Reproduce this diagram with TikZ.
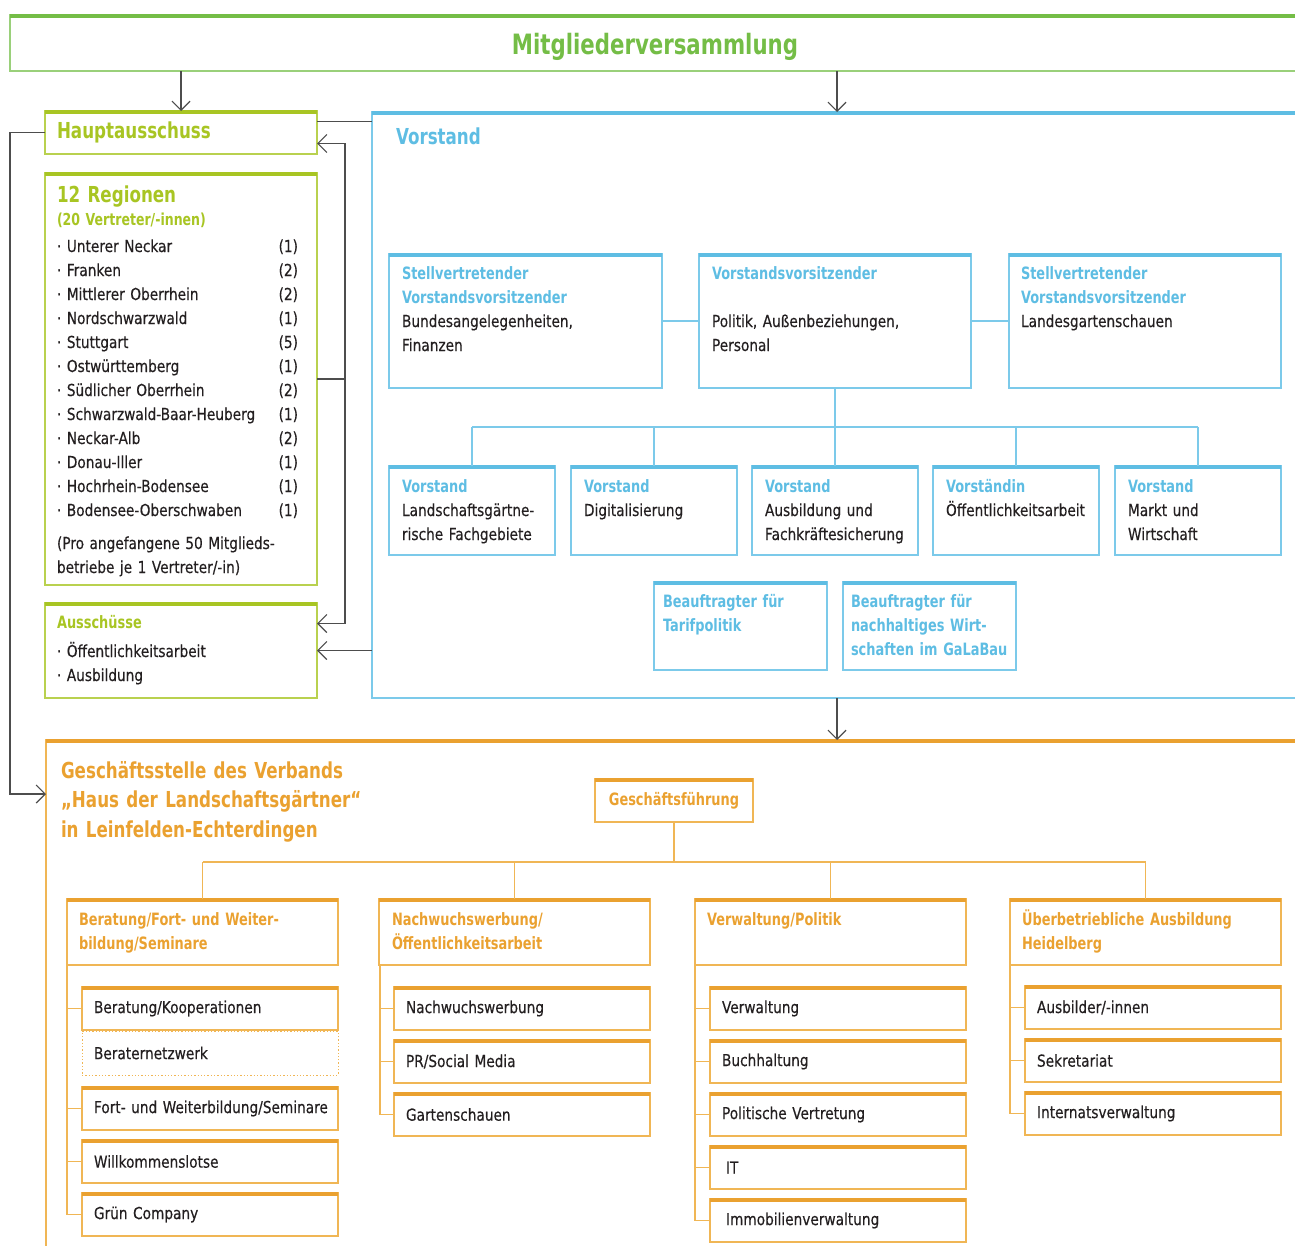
\documentclass[tikz,border=0pt]{standalone}
\usepackage{fontspec}
\setmainfont{DejaVu Sans}[UprightFeatures={FakeStretch=0.83,FakeBold=0.4},BoldFeatures={FakeStretch=0.76}]
\usetikzlibrary{arrows.meta,calc}
\definecolor{mgreen}{HTML}{74BD46}
\definecolor{mgreenL}{HTML}{9AD07A}
\definecolor{lime}{HTML}{A8C523}
\definecolor{limeL}{HTML}{B9D14F}
\definecolor{vblue}{HTML}{5EBDE3}
\definecolor{vblueL}{HTML}{7CCAEA}
\definecolor{gorange}{HTML}{EAA130}
\definecolor{gorangeL}{HTML}{F0B655}
\definecolor{ink}{HTML}{231F20}
\definecolor{conn}{HTML}{4D4D4D}
\newcommand\body{\fontsize{16.5}{24}\selectfont}
\newcommand\hd{\fontsize{17}{24}\selectfont\bfseries}
\newcommand\topbar[2]{\draw[draw=#2, line width=4pt] ([yshift=-1pt]#1.north west) -- ([yshift=-1pt]#1.north east);}
\newcommand\rli[2]{·\ #1\hfill(#2)}
\begin{document}
\begin{tikzpicture}[x=1pt,y=-1pt,
  frame/.style={draw=#1, line width=1.3pt, anchor=north west, inner sep=0pt, outer sep=0pt},
  arr/.style={draw=conn, line width=1.2pt, -{Straight Barb[length=9pt,width=18pt]}},
  cline/.style={draw=conn, line width=1.2pt},
  bline/.style={draw=vblueL, line width=1.3pt},
  oline/.style={draw=gorangeL, line width=1.3pt},
  txt/.style={anchor=base west, inner sep=0pt, outer sep=0pt, align=left, text=ink, font=\body, text width=#1pt},
  txt/.default=250,
  item/.style={frame=gorangeL, minimum width=256pt, minimum height=43pt, text width=232pt, inner xsep=12pt, align=left, font=\body, text=ink},
  vbox/.style={frame=vblueL},
  obox/.style={frame=gorangeL},
  lbox/.style={frame=limeL}
]
\useasboundingbox (0,0) rectangle (1295,1245);

% ---------- Mitgliederversammlung
\node[frame=mgreenL, minimum width=1300pt, minimum height=56pt] (M) at (10,15) {};
\topbar{M}{mgreen}
\node[anchor=base, inner sep=0pt, text=mgreen, font=\fontsize{28}{30}\selectfont\bfseries] (Mt) at (655,54) {Mitgliederversammlung};

% ---------- left column
\node[lbox, minimum width=272pt, minimum height=43pt, text width=248pt, inner xsep=12pt, align=left, text=lime, font=\fontsize{22}{24}\selectfont\bfseries] (H) at (45,111) {Hauptausschuss};
\topbar{H}{lime}

\node[lbox, minimum width=272pt, minimum height=412pt] (R) at (45,173) {};
\topbar{R}{lime}
\node[txt, text=lime, font=\fontsize{22}{24}\selectfont\bfseries] (Rt) at ([shift={(12,29)}]R.north west) {12 Regionen};
\node[txt, text=lime, font=\fontsize{16.5}{24}\selectfont\bfseries] (Rs) at ([shift={(12,52)}]R.north west) {(20 Vertreter/-innen)};
\node[txt=241] (Rl) at ([shift={(12,79)}]R.north west) {\rli{Unterer Neckar}{1}\\\rli{Franken}{2}\\\rli{Mittlerer Oberrhein}{2}\\\rli{Nordschwarzwald}{1}\\\rli{Stuttgart}{5}\\\rli{Ostwürttemberg}{1}\\\rli{Südlicher Oberrhein}{2}\\\rli{Schwarzwald-Baar-Heuberg}{1}\\\rli{Neckar-Alb}{2}\\\rli{Donau-Iller}{1}\\\rli{Hochrhein-Bodensee}{1}\\\rli{Bodensee-Oberschwaben}{1}};
\node[txt] (Rn) at ([shift={(12,376)}]R.north west) {(Pro angefangene 50 Mitglieds-\\betriebe je 1 Vertreter/-in)};

\node[lbox, minimum width=272pt, minimum height=95pt] (A) at (45,603) {};
\topbar{A}{lime}
\node[txt] (At) at ([shift={(12,25)}]A.north west) {{\color{lime}\hd Ausschüsse}\\[5pt]·\ Öffentlichkeitsarbeit\\·\ Ausbildung};

% ---------- Vorstand
\node[vbox, minimum width=930pt, minimum height=586pt] (V) at (372,112) {};
\topbar{V}{vblue}
\node[txt, text=vblue, font=\fontsize{22}{24}\selectfont\bfseries] (Vt) at (396,144) {Vorstand};

\node[vbox, minimum width=273pt, minimum height=134pt] (vA) at (389,254) {};
\node[vbox, minimum width=272pt, minimum height=134pt] (vB) at (699,254) {};
\node[vbox, minimum width=272pt, minimum height=134pt] (vC) at (1009,254) {};
\foreach \n in {vA,vB,vC} {\topbar{\n}{vblue}}
\node[txt] (tA) at ([shift={(13,25)}]vA.north west) {{\color{vblue}\hd Stellvertretender\\Vorstandsvorsitzender}\\Bundesangelegenheiten,\\Finanzen};
\node[txt] (tB) at ([shift={(13,25)}]vB.north west) {{\color{vblue}\hd Vorstandsvorsitzender}\\[24pt]Politik, Außenbeziehungen,\\Personal};
\node[txt] (tC) at ([shift={(12,25)}]vC.north west) {{\color{vblue}\hd Stellvertretender\\Vorstandsvorsitzender}\\Landesgartenschauen};

\foreach \n/\x in {w1/389,w2/571,w3/752,w4/933,w5/1115} {
  \node[vbox, minimum width=166pt, minimum height=89pt] (\n) at (\x,466) {};
  \topbar{\n}{vblue}
}
\node[txt=160] (tw1) at ([shift={(13,26)}]w1.north west) {{\color{vblue}\hd Vorstand}\\Landschaftsgärtne-\\rische Fachgebiete};
\node[txt=160] (tw2) at ([shift={(13,26)}]w2.north west) {{\color{vblue}\hd Vorstand}\\Digitalisierung};
\node[txt=160] (tw3) at ([shift={(13,26)}]w3.north west) {{\color{vblue}\hd Vorstand}\\Ausbildung und\\Fachkräftesicherung};
\node[txt=160] (tw4) at ([shift={(13,26)}]w4.north west) {{\color{vblue}\hd Vorständin}\\Öffentlichkeitsarbeit};
\node[txt=160] (tw5) at ([shift={(13,26)}]w5.north west) {{\color{vblue}\hd Vorstand}\\Markt und\\Wirtschaft};

\node[vbox, minimum width=173pt, minimum height=88pt] (t1) at (654,582) {};
\node[vbox, minimum width=173pt, minimum height=88pt] (t2) at (843,582) {};
\topbar{t1}{vblue}\topbar{t2}{vblue}
\node[txt=165, text=vblue, font=\hd] (tt1) at ([shift={(9,25)}]t1.north west) {Beauftragter für\\Tarifpolitik};
\node[txt=165, text=vblue, font=\hd] (tt2) at ([shift={(8,25)}]t2.north west) {Beauftragter für\\nachhaltiges Wirt-\\schaften im GaLaBau};

\draw[bline] (vA.east) -- (vB.west);
\draw[bline] (vB.east) -- (vC.west);
\draw[bline] (vB.south) -- ++(0,39) coordinate (bj);
\draw[bline] (bj -| w1.north) -- (bj -| w5.north);
\foreach \n in {w1,w2,w3,w4,w5} {\draw[bline] (bj -| \n.north) -- (\n.north);}

% ---------- Geschäftsstelle
\node[obox, minimum width=1260pt, minimum height=520pt] (G) at (46,740) {};
\topbar{G}{gorange}
\node[txt=400, text=gorange, font=\fontsize{22}{29.5}\selectfont\bfseries] (Gt) at ([shift={(15,38)}]G.north west) {Geschäftsstelle des Verbands\\„Haus der Landschaftsgärtner“\\in Leinfelden-Echterdingen};

\node[obox, minimum width=158pt, minimum height=43pt, text=gorange, font=\fontsize{17}{18}\selectfont\bfseries] (GF) at (595,779) {Geschäftsführung};
\topbar{GF}{gorange}

\foreach \n/\x in {h1/67,h2/379,h3/695,h4/1010} {
  \node[obox, minimum width=271pt, minimum height=66pt] (\n) at (\x,899) {};
  \topbar{\n}{gorange}
}
\node[txt=260, text=gorange, font=\fontsize{17}{24}\selectfont\bfseries] (th1) at ([shift={(12,26)}]h1.north west) {Beratung/Fort- und Weiter-\\bildung/Seminare};
\node[txt=260, text=gorange, font=\fontsize{17}{24}\selectfont\bfseries] (th2) at ([shift={(13,26)}]h2.north west) {Nachwuchswerbung/\\Öffentlichkeitsarbeit};
\node[txt=260, text=gorange, font=\fontsize{17}{24}\selectfont\bfseries] (th3) at ([shift={(12,26)}]h3.north west) {Verwaltung/Politik};
\node[txt=260, text=gorange, font=\fontsize{17}{24}\selectfont\bfseries] (th4) at ([shift={(12,26)}]h4.north west) {Überbetriebliche Ausbildung\\Heidelberg};

\draw[oline] (GF.south) -- ++(0,40) coordinate (oj);
\draw[oline] (oj -| h1.north) -- (oj -| h4.north);
\foreach \n in {h1,h2,h3,h4} {\draw[oline] (oj -| \n.north) -- (\n.north);}

% column 1
\node[item] (c11) at (82,987) {Beratung/Kooperationen};
\node[frame=gorangeL, dotted, line width=1pt, minimum width=256pt, minimum height=44pt, text width=232pt, inner xsep=12pt, align=left, font=\body, text=ink] (c12) at (82,1031) {Beraternetzwerk};
\node[item] (c13) at (82,1087) {\mbox{Fort- und Weiterbildung/Seminare}};
\node[item] (c14) at (82,1140) {Willkommenslotse};
\node[item] (c15) at (82,1193) {Grün Company};
\foreach \n in {c11,c13,c14,c15} {\topbar{\n}{gorange}}
\draw[oline] (h1.south west) |- (c15.west);
\foreach \n in {c11,c13,c14} {\draw[oline] (h1.south west |- \n.west) -- (\n.west);}

% column 2
\node[item] (c21) at (394,987) {Nachwuchswerbung};
\node[item] (c22) at (394,1040) {PR/Social Media};
\node[item] (c23) at (394,1093) {Gartenschauen};
\foreach \n in {c21,c22,c23} {\topbar{\n}{gorange}}
\draw[oline] ([xshift=1pt]h2.south west) |- (c23.west);
\foreach \n in {c21,c22} {\draw[oline] ([xshift=1pt]h2.south west |- \n.west) -- (\n.west);}

% column 3
\node[item] (c31) at (710,987) {Verwaltung};
\node[item] (c32) at (710,1040) {Buchhaltung};
\node[item] (c33) at (710,1093) {Politische Vertretung};
\node[item, inner xsep=16pt, text width=224pt] (c34) at (710,1146) {IT};
\node[item, inner xsep=16pt, text width=224pt] (c35) at (710,1199) {Immobilienverwaltung};
\foreach \n in {c31,c32,c33,c34,c35} {\topbar{\n}{gorange}}
\draw[oline] (h3.south west) |- (c35.west);
\foreach \n in {c31,c32,c33,c34} {\draw[oline] (h3.south west |- \n.west) -- (\n.west);}

% column 4
\node[item] (c41) at (1025,986) {Ausbilder/-innen};
\node[item] (c42) at (1025,1039) {Sekretariat};
\node[item] (c43) at (1025,1092) {Internatsverwaltung};
\foreach \n in {c41,c42,c43} {\topbar{\n}{gorange}}
\draw[oline] (h4.south west) |- (c43.west);
\foreach \n in {c41,c42} {\draw[oline] (h4.south west |- \n.west) -- (\n.west);}

% ---------- grey connectors
\coordinate (vx) at (837,0);
\draw[arr] (M.south -| H.north) -- (H.north);
\draw[arr] (M.south -| vx) -- (V.north -| vx);
\draw[cline] ([yshift=11pt]H.east) -- ([yshift=11pt]H.east -| V.west);
\draw[cline] (R.east) -- ++(28,0) coordinate (rj);
\draw[arr] (rj) |- ([yshift=-11pt]H.east);
\draw[arr] (rj) |- ([yshift=27pt]A.east);
\draw[arr] (V.west |- A.east) -- (A.east);
\draw[arr] (H.west) -- ++(-35,0) |- ([yshift=-54pt]G.north west);
\draw[arr] (V.south -| vx) -- (G.north -| vx);
\end{tikzpicture}
\end{document}
